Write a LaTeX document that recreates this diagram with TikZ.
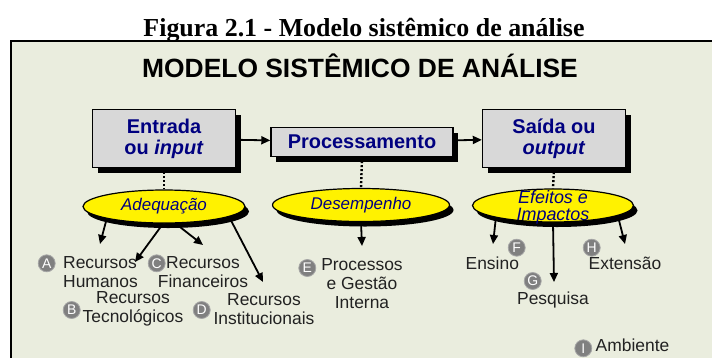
\documentclass[tikz,border=0pt]{standalone}
\usepackage{fontspec}
\setmainfont{Liberation Sans}
\newfontfamily\serifcap{Liberation Serif}
\usepackage{tikz}
\usetikzlibrary{arrows.meta, positioning, shapes.geometric, shadows}

\definecolor{panelbg}{RGB}{234,237,222}
\definecolor{boxgray}{RGB}{216,216,216}
\definecolor{navytext}{RGB}{0,0,128}
\definecolor{labeltext}{RGB}{34,34,34}
\definecolor{markgray}{RGB}{128,128,128}

\begin{document}
\begin{tikzpicture}[x=1bp, y=-1bp, >={Triangle[length=9bp,width=8bp]},
  blockbox/.style={draw=black, line width=1.4bp, fill=boxgray, inner sep=0pt,
    align=center, text=navytext, font=\fontsize{20}{21}\selectfont\bfseries,
    drop shadow={shadow xshift=5bp, shadow yshift=-5bp, opacity=1, fill=black}},
  critoval/.style={ellipse, draw=black, line width=1.2bp, fill=yellow, inner sep=0pt,
    align=center, text=navytext, font=\fontsize{17}{17}\selectfont\itshape,
    drop shadow={shadow xshift=4bp, shadow yshift=-5bp, opacity=1, fill=black}},
  itemlabel/.style={text=labeltext, align=center, inner sep=0pt,
    font=\fontsize{17.5}{19}\selectfont},
  marker/.style={circle, fill=markgray, draw=markgray!70, line width=0.8bp,
    minimum size=17bp, inner sep=0pt, text=white,
    font=\fontsize{14}{14}\selectfont},
  dotlink/.style={line width=2.4bp, dash pattern=on 2bp off 2bp},
  flow/.style={->, line width=1.8bp}]

  \useasboundingbox (0,0) rectangle (712,358);

  % Quadro
  \fill[panelbg] (11,41) rectangle (712,358);
  \draw[line width=2bp] (712,41) -- (11,41) -- (11,358);

  % Legenda e titulo
  \node[anchor=base, font=\serifcap\fontsize{26}{26}\selectfont\bfseries]
    (caption) at (364,36) {Figura 2.1 - Modelo sist\^emico de an\'alise};
  \node[anchor=base, font=\fontsize{26.5}{26.5}\selectfont\bfseries]
    (title) at (360,77) {MODELO SIST\^EMICO DE AN\'ALISE};

  % Blocos
  \node[blockbox, minimum width=143bp, minimum height=58bp] (entrada) at (164,138.5)
    {Entrada\\ou \textit{input}};
  \node[blockbox, minimum width=182bp, minimum height=29bp] (proc) at (362,142)
    {Processamento};
  \node[blockbox, minimum width=143bp, minimum height=58bp] (saida) at (554,138.5)
    {Sa\'ida ou\\\textit{output}};

  \draw[flow] (entrada) -- (proc);
  \draw[flow] (proc) -- (saida);

  % Criterios
  \node[critoval, minimum width=162bp, minimum height=33bp] (adeq) at (164,206.5)
    {Adequa\c{c}\~ao};
  \node[critoval, minimum width=177bp, minimum height=33bp] (desemp) at (361,205)
    {Desempenho};
  \node[critoval, minimum width=161bp, minimum height=33bp,
    font=\fontsize{18}{17}\selectfont\itshape] (efeitos) at (553,205.5)
    {\raisebox{-15bp}[0pt][0pt]{\begin{tabular}[b]{@{}c@{}}Efeitos e\\Impactos\end{tabular}}};

  \draw[dotlink] (entrada.south) -- (adeq.north);
  \draw[dotlink] (proc.south) -- (desemp.north);
  \draw[dotlink] (saida.south) -- (efeitos.north);

  % Marcadores
  \node[marker] (mA) at (46.7,263.3) {A};
  \node[marker] (mC) at (156.7,263.3) {C};
  \node[marker] (mB) at (71.7,310) {B};
  \node[marker] (mD) at (201.7,310) {D};
  \node[marker] (mE) at (307.3,268) {E};
  \node[marker] (mF) at (516.7,247.7) {F};
  \node[marker] (mG) at (532.7,281) {G};
  \node[marker] (mH) at (591.7,247.7) {H};
  \node[marker] (mI) at (583.3,348.3) {I};

  % Itens
  \node[itemlabel, align=left, anchor=west] (humanos) at (63,272.5) {Recursos\\Humanos};
  \node[itemlabel] (financeiros) at (203,272.5) {Recursos\\Financeiros};
  \node[itemlabel] (tecnologicos) at (133,309) {Recursos\\Tecnol\'ogicos};
  \node[itemlabel] (institucionais) at (264,309) {Recursos\\Institucionais};
  \node[itemlabel] (gestao) at (362,284) {Processos\\e Gest\~ao\\Interna};
  \node[itemlabel] (ensino) at (492.3,263.3) {Ensino};
  \node[itemlabel] (pesquisa) at (553,300) {Pesquisa};
  \node[itemlabel] (extensao) at (625,263) {Extens\~ao};
  \node[itemlabel] (ambiente) at (632.5,345) {Ambiente};

  % Setas dos criterios
  \coordinate (a1) at (100,244);
  \coordinate (a2) at (135,262);
  \coordinate (a3) at (203,245);
  \coordinate (a4) at (263,282);
  \coordinate (d1) at (362,246);
  \coordinate (e1) at (493,244);
  \coordinate (e2) at (554,282);
  \coordinate (e3) at (625,244);

  \draw[flow] (adeq.-168) -- (a1);
  \draw[flow] (adeq.-93) -- (a2);
  \draw[flow] (adeq.-56) -- (a3);
  \draw[flow] (adeq.-9) -- (a4);
  \draw[flow] (desemp.south) -- (d1);
  \draw[flow] (efeitos.-168) -- (e1);
  \draw[flow] (efeitos.south) -- (e2);
  \draw[flow] (efeitos.-9) -- (e3);
\end{tikzpicture}
\end{document}
